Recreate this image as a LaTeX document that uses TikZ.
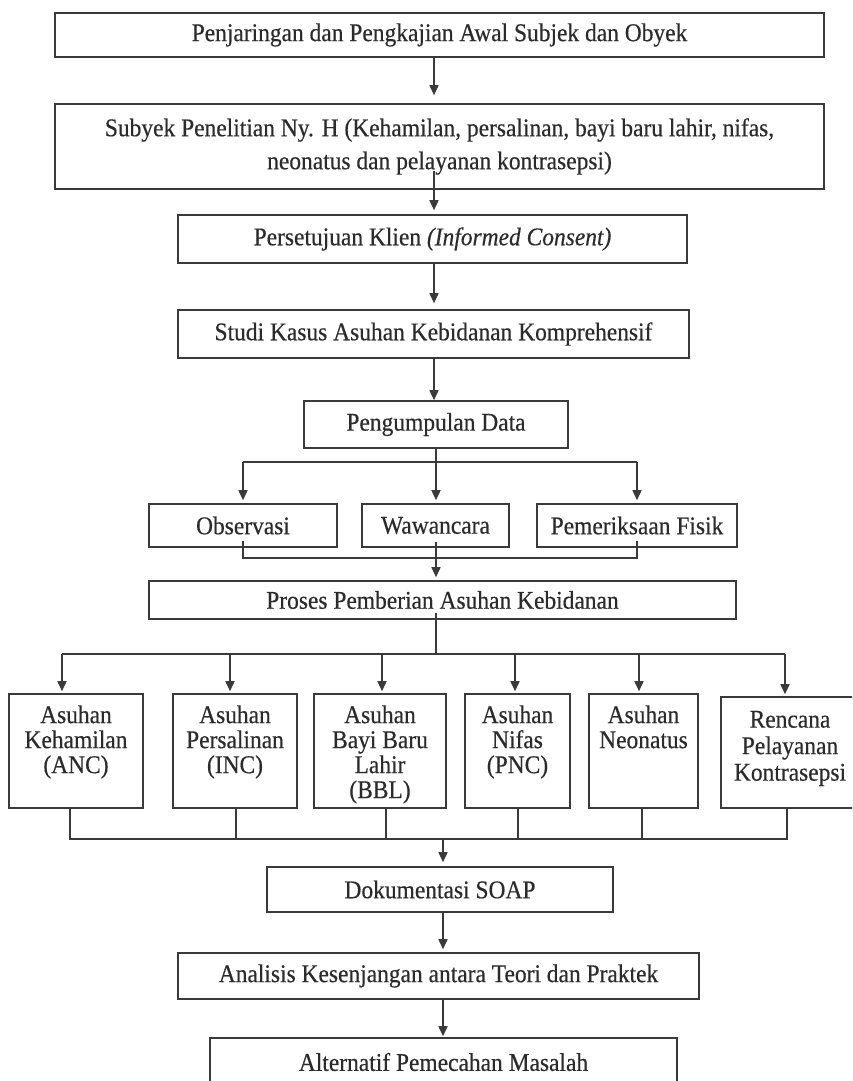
\documentclass[tikz,border=0pt]{standalone}
\usepackage{fontspec}
\setmainfont[FakeStretch=0.92,FakeBold=0.4]{Liberation Serif}
\usetikzlibrary{arrows.meta,calc}
\definecolor{ln}{HTML}{3A3A3A}
\definecolor{tx}{HTML}{2B2B2B}
\tikzset{
  box/.style={draw=ln, line width=1.6pt, inner sep=0pt, text=tx,
    font=\fontsize{25.5}{33}\selectfont, align=center},
  conn/.style={draw=ln, line width=1.6pt},
  arr/.style={conn, -{Triangle[length=10pt,width=9pt]}},
  stext/.style={text=tx, font=\fontsize{25.5}{25}\selectfont, align=center,
    inner sep=0pt, anchor=north},
}
\begin{document}
\begin{tikzpicture}[x=1pt,y=-1pt]
\useasboundingbox (0,0) rectangle (852,1081);
\fill[white] (0,0) rectangle (852,1081);
\clip (0,0) rectangle (852,1081);

% main column boxes
\node[box, minimum width=769pt, minimum height=44pt] (b1) at (439.5,35)
  {Penjaringan dan Pengkajian Awal Subjek dan Obyek};
\node[box, minimum width=769pt, minimum height=85pt] (b2) at (439.5,146.5)
  {Subyek Penelitian Ny. H (Kehamilan, persalinan, bayi baru lahir, nifas,\\neonatus dan pelayanan kontrasepsi)};
\node[box, minimum width=509pt, minimum height=48pt] (b3) at (432.5,239)
  {Persetujuan Klien \textit{(Informed Consent)}};
\node[box, minimum width=511pt, minimum height=48pt] (b4) at (433.5,334)
  {Studi Kasus Asuhan Kebidanan Komprehensif};
\node[box, minimum width=264pt, minimum height=47pt] (b5) at (436,424.5)
  {Pengumpulan Data};
\node[box, minimum width=188pt, minimum height=43pt] (b6) at (243,525.5)
  {Observasi};
\node[box, minimum width=147pt, minimum height=43pt] (b7) at (435.5,525.5)
  {Wawancara};
\node[box, minimum width=200pt, minimum height=43pt] (b8) at (637,525.5)
  {Pemeriksaan Fisik};
\node[box, minimum width=587pt, minimum height=38pt] (b9) at (442.5,600)
  {Proses Pemberian Asuhan Kebidanan};

% row of care boxes
\node[box, minimum width=134pt, minimum height=114pt] (c1) at (76,751) {};
\node[box, minimum width=124pt, minimum height=114pt] (c2) at (235,751) {};
\node[box, minimum width=132pt, minimum height=114pt] (c3) at (380,751) {};
\node[box, minimum width=105pt, minimum height=114pt] (c4) at (517.5,751) {};
\node[box, minimum width=109pt, minimum height=114pt] (c5) at (643.5,751) {};
\node[box, minimum width=138pt, minimum height=111pt] (c6) at (790,752.5) {};
\node[stext] (t1) at ($(c1.north)+(0,12)$) {Asuhan\\Kehamilan\\(ANC)};
\node[stext] (t2) at ($(c2.north)+(0,12)$) {Asuhan\\Persalinan\\(INC)};
\node[stext] (t3) at ($(c3.north)+(0,12)$) {Asuhan\\Bayi Baru\\Lahir\\(BBL)};
\node[stext] (t4) at ($(c4.north)+(0,12)$) {Asuhan\\Nifas\\(PNC)};
\node[stext] (t5) at ($(c5.north)+(0,12)$) {Asuhan\\Neonatus};
\node[stext, font=\fontsize{25.5}{26.5}\selectfont] (t6) at ($(c6.north)+(0,14.5)$)
  {Rencana\\Pelayanan\\Kontrasepsi};

% lower column
\node[box, minimum width=346pt, minimum height=45pt] (d1) at (440,889.5)
  {Dokumentasi SOAP};
\node[box, minimum width=521pt, minimum height=46pt] (d2) at (438.5,976)
  {Analisis Kesenjangan antara Teori dan Praktek};
\node[box, minimum width=467pt, minimum height=48pt] (d3) at (443.5,1062)
  {Alternatif Pemecahan Masalah};

% upper spine
\coordinate (s) at (434,0);
\draw[arr, shorten >=8pt] (b1.south -| s) -- (b2.north -| s);
\draw[arr, shorten >=4pt] ($(b2.south -| s)+(0,-19)$) -- (b3.north -| s);
\draw[arr, shorten >=6pt] (b3.south -| s) -- (b4.north -| s);
\draw[arr] (b4.south -| s) -- (b5.north -| s);

% fork to data-collection methods
\coordinate (m) at (436,0);
\coordinate (f) at (0,462);
\draw[conn] (b5.south -| m) -- (f -| m);
\draw[conn] (f -| b6.north) -- (f -| b8.north);
\draw[arr, shorten >=3pt] (f -| b6.north) -- (b6.north);
\draw[arr, shorten >=3pt] (f -| m) -- (b7.north -| m);
\draw[arr, shorten >=3pt] (f -| b8.north) -- (b8.north);

% join
\coordinate (j) at (0,558);
\draw[conn] ($(b6.south)+(0,-7)$) -- (b6.south |- j) -- (b8.south |- j) -- ($(b8.south)+(0,-7)$);
\draw[arr, shorten >=3pt] ($(b7.south -| m)+(0,-6)$) -- (b9.north -| m);

% distribution to care boxes
\coordinate (p1) at (62,654);
\coordinate (p2) at (230,654);
\coordinate (p3) at (382,654);
\coordinate (p4) at (515,654);
\coordinate (p5) at (639,654);
\coordinate (p6) at (785,654);
\draw[conn] ($(b9.south -| m)+(0,-7)$) -- (p1 -| m);
\draw[conn] (p1) -- (p6);
\draw[arr, shorten >=2pt] (p1) -- (c1.north -| p1);
\draw[arr, shorten >=2pt] (p2) -- (c2.north -| p2);
\draw[arr, shorten >=2pt] (p3) -- (c3.north -| p3);
\draw[arr, shorten >=2pt] (p4) -- (c4.north -| p4);
\draw[arr, shorten >=2pt] (p5) -- (c5.north -| p5);
\draw[arr, shorten >=2pt] (p6) -- (c6.north -| p6);

% collect
\coordinate (q1) at (70,839);
\coordinate (q2) at (236,839);
\coordinate (q3) at (386,839);
\coordinate (q4) at (518,839);
\coordinate (q5) at (642,839);
\coordinate (q6) at (787,839);
\draw[conn] (c1.south -| q1) -- (q1) -- (q6) -- (c6.south -| q6);
\draw[conn] (c2.south -| q2) -- (q2);
\draw[conn] (c3.south -| q3) -- (q3);
\draw[conn] (c4.south -| q4) -- (q4);
\draw[conn] (c5.south -| q5) -- (q5);

% lower spine
\coordinate (n) at (443,839);
\draw[arr, shorten >=4pt] (n) -- (d1.north -| n);
\draw[arr, shorten >=3pt] (d1.south -| n) -- (d2.north -| n);
\draw[arr, shorten >=1pt] (d2.south -| n) -- (d3.north -| n);
\end{tikzpicture}
\end{document}
